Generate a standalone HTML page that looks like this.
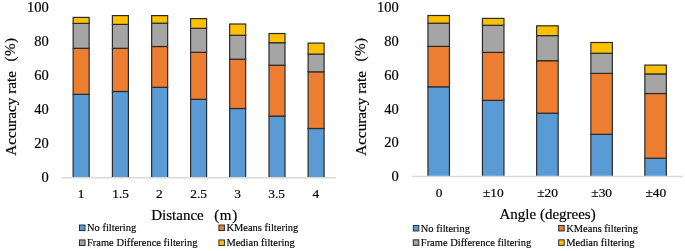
<!DOCTYPE html>
<html><head><meta charset="utf-8"><style>
html,body{margin:0;padding:0;background:#fff;}
body{width:685px;height:251px;overflow:hidden;}
svg{display:block;will-change:transform;filter:blur(0.35px);}
.t{font-family:"Liberation Serif", serif;font-size:14.5px;fill:#000;stroke:#000;stroke-width:0.18px;}
.ti{font-family:"Liberation Serif", serif;font-size:15px;fill:#000;stroke:#000;stroke-width:0.18px;}
.yl{font-family:"Liberation Serif", serif;font-size:15.2px;fill:#000;stroke:#000;stroke-width:0.18px;}
.xt{font-family:"Liberation Serif", serif;font-size:13.4px;fill:#000;stroke:#000;stroke-width:0.2px;}
.lg{font-family:"Liberation Serif", serif;font-size:10.5px;fill:#000;stroke:#000;stroke-width:0.15px;}
</style></head><body>
<svg width="685" height="251" viewBox="0 0 685 251">
<rect width="685" height="251" fill="#fff"/>
<text x="48.8" y="182.40" text-anchor="end" class="t">0</text>
<text x="48.8" y="148.26" text-anchor="end" class="t">20</text>
<text x="48.8" y="114.12" text-anchor="end" class="t">40</text>
<text x="48.8" y="79.98" text-anchor="end" class="t">60</text>
<text x="48.8" y="45.84" text-anchor="end" class="t">80</text>
<text x="48.8" y="11.70" text-anchor="end" class="t">100</text>
<clipPath id="c62"><rect x="0" y="0" width="685" height="177.30"/></clipPath><g clip-path="url(#c62)">
<rect x="73.15" y="94.30" width="16.00" height="86.40" fill="#5B9BD5" stroke="#2b2b2b" stroke-width="1.2"/>
<rect x="73.15" y="48.30" width="16.00" height="46.00" fill="#ED7D31" stroke="#2b2b2b" stroke-width="1.2"/>
<rect x="73.15" y="23.40" width="16.00" height="24.90" fill="#A5A5A5" stroke="#2b2b2b" stroke-width="1.2"/>
<rect x="73.15" y="17.40" width="16.00" height="6.00" fill="#FFC000" stroke="#2b2b2b" stroke-width="1.2"/>
<rect x="112.40" y="91.50" width="16.00" height="89.20" fill="#5B9BD5" stroke="#2b2b2b" stroke-width="1.2"/>
<rect x="112.40" y="48.30" width="16.00" height="43.20" fill="#ED7D31" stroke="#2b2b2b" stroke-width="1.2"/>
<rect x="112.40" y="24.40" width="16.00" height="23.90" fill="#A5A5A5" stroke="#2b2b2b" stroke-width="1.2"/>
<rect x="112.40" y="15.60" width="16.00" height="8.80" fill="#FFC000" stroke="#2b2b2b" stroke-width="1.2"/>
<rect x="151.65" y="87.30" width="16.00" height="93.40" fill="#5B9BD5" stroke="#2b2b2b" stroke-width="1.2"/>
<rect x="151.65" y="46.50" width="16.00" height="40.80" fill="#ED7D31" stroke="#2b2b2b" stroke-width="1.2"/>
<rect x="151.65" y="23.20" width="16.00" height="23.30" fill="#A5A5A5" stroke="#2b2b2b" stroke-width="1.2"/>
<rect x="151.65" y="15.60" width="16.00" height="7.60" fill="#FFC000" stroke="#2b2b2b" stroke-width="1.2"/>
<rect x="190.60" y="99.30" width="16.00" height="81.40" fill="#5B9BD5" stroke="#2b2b2b" stroke-width="1.2"/>
<rect x="190.60" y="52.30" width="16.00" height="47.00" fill="#ED7D31" stroke="#2b2b2b" stroke-width="1.2"/>
<rect x="190.60" y="28.30" width="16.00" height="24.00" fill="#A5A5A5" stroke="#2b2b2b" stroke-width="1.2"/>
<rect x="190.60" y="18.60" width="16.00" height="9.70" fill="#FFC000" stroke="#2b2b2b" stroke-width="1.2"/>
<rect x="229.65" y="108.50" width="16.00" height="72.20" fill="#5B9BD5" stroke="#2b2b2b" stroke-width="1.2"/>
<rect x="229.65" y="59.20" width="16.00" height="49.30" fill="#ED7D31" stroke="#2b2b2b" stroke-width="1.2"/>
<rect x="229.65" y="35.30" width="16.00" height="23.90" fill="#A5A5A5" stroke="#2b2b2b" stroke-width="1.2"/>
<rect x="229.65" y="24.00" width="16.00" height="11.30" fill="#FFC000" stroke="#2b2b2b" stroke-width="1.2"/>
<rect x="269.00" y="116.10" width="16.00" height="64.60" fill="#5B9BD5" stroke="#2b2b2b" stroke-width="1.2"/>
<rect x="269.00" y="65.20" width="16.00" height="50.90" fill="#ED7D31" stroke="#2b2b2b" stroke-width="1.2"/>
<rect x="269.00" y="42.70" width="16.00" height="22.50" fill="#A5A5A5" stroke="#2b2b2b" stroke-width="1.2"/>
<rect x="269.00" y="33.50" width="16.00" height="9.20" fill="#FFC000" stroke="#2b2b2b" stroke-width="1.2"/>
<rect x="308.10" y="128.50" width="16.00" height="52.20" fill="#5B9BD5" stroke="#2b2b2b" stroke-width="1.2"/>
<rect x="308.10" y="71.80" width="16.00" height="56.70" fill="#ED7D31" stroke="#2b2b2b" stroke-width="1.2"/>
<rect x="308.10" y="54.10" width="16.00" height="17.70" fill="#A5A5A5" stroke="#2b2b2b" stroke-width="1.2"/>
<rect x="308.10" y="43.10" width="16.00" height="11.00" fill="#FFC000" stroke="#2b2b2b" stroke-width="1.2"/>
</g>
<line x1="62" y1="177.7" x2="336" y2="177.7" stroke="#d9d9d9" stroke-width="1.5"/>
<text x="81.1" y="198.2" text-anchor="middle" class="xt">1</text>
<text x="120.6" y="198.2" text-anchor="middle" class="xt">1.5</text>
<text x="159.4" y="198.2" text-anchor="middle" class="xt">2</text>
<text x="198.6" y="198.2" text-anchor="middle" class="xt">2.5</text>
<text x="237.5" y="198.2" text-anchor="middle" class="xt">3</text>
<text x="276.7" y="198.2" text-anchor="middle" class="xt">3.5</text>
<text x="315.9" y="198.2" text-anchor="middle" class="xt">4</text>
<text x="194.6" y="219.8" text-anchor="middle" class="ti">Distance<tspan dx="10.4" letter-spacing="0.7">(m)</tspan></text>
<text transform="translate(16.2,155.8) rotate(-90)" class="yl">Accuracy rate<tspan dx="9.5" dy="-1.3" letter-spacing="0.4">(%)</tspan></text>
<rect x="79.50" y="225.05" width="5.5" height="5.5" fill="#5B9BD5" stroke="#2b2b2b" stroke-width="1"/>
<text transform="translate(87.00,231.10) scale(1,1.08)" class="lg">No filtering</text>
<rect x="218.90" y="225.05" width="5.5" height="5.5" fill="#ED7D31" stroke="#2b2b2b" stroke-width="1"/>
<text transform="translate(226.40,231.10) scale(1,1.08)" class="lg">KMeans filtering</text>
<rect x="79.50" y="239.95" width="5.5" height="5.5" fill="#A5A5A5" stroke="#2b2b2b" stroke-width="1"/>
<text transform="translate(87.00,246.00) scale(1,1.08)" class="lg">Frame Difference filtering</text>
<rect x="218.90" y="239.95" width="5.5" height="5.5" fill="#FFC000" stroke="#2b2b2b" stroke-width="1"/>
<text transform="translate(226.40,246.00) scale(1,1.08)" class="lg">Median filtering</text>
<text x="398.8" y="181.10" text-anchor="end" class="t">0</text>
<text x="398.8" y="147.32" text-anchor="end" class="t">20</text>
<text x="398.8" y="113.54" text-anchor="end" class="t">40</text>
<text x="398.8" y="79.76" text-anchor="end" class="t">60</text>
<text x="398.8" y="45.98" text-anchor="end" class="t">80</text>
<text x="398.8" y="12.20" text-anchor="end" class="t">100</text>
<clipPath id="c412"><rect x="0" y="0" width="685" height="176.00"/></clipPath><g clip-path="url(#c412)">
<rect x="427.95" y="86.80" width="21.50" height="92.60" fill="#5B9BD5" stroke="#2b2b2b" stroke-width="1.2"/>
<rect x="427.95" y="46.40" width="21.50" height="40.40" fill="#ED7D31" stroke="#2b2b2b" stroke-width="1.2"/>
<rect x="427.95" y="23.20" width="21.50" height="23.20" fill="#A5A5A5" stroke="#2b2b2b" stroke-width="1.2"/>
<rect x="427.95" y="15.50" width="21.50" height="7.70" fill="#FFC000" stroke="#2b2b2b" stroke-width="1.2"/>
<rect x="482.45" y="100.40" width="21.50" height="79.00" fill="#5B9BD5" stroke="#2b2b2b" stroke-width="1.2"/>
<rect x="482.45" y="52.40" width="21.50" height="48.00" fill="#ED7D31" stroke="#2b2b2b" stroke-width="1.2"/>
<rect x="482.45" y="25.30" width="21.50" height="27.10" fill="#A5A5A5" stroke="#2b2b2b" stroke-width="1.2"/>
<rect x="482.45" y="18.40" width="21.50" height="6.90" fill="#FFC000" stroke="#2b2b2b" stroke-width="1.2"/>
<rect x="536.65" y="113.20" width="21.50" height="66.20" fill="#5B9BD5" stroke="#2b2b2b" stroke-width="1.2"/>
<rect x="536.65" y="60.70" width="21.50" height="52.50" fill="#ED7D31" stroke="#2b2b2b" stroke-width="1.2"/>
<rect x="536.65" y="35.60" width="21.50" height="25.10" fill="#A5A5A5" stroke="#2b2b2b" stroke-width="1.2"/>
<rect x="536.65" y="25.80" width="21.50" height="9.80" fill="#FFC000" stroke="#2b2b2b" stroke-width="1.2"/>
<rect x="590.85" y="134.30" width="21.50" height="45.10" fill="#5B9BD5" stroke="#2b2b2b" stroke-width="1.2"/>
<rect x="590.85" y="73.40" width="21.50" height="60.90" fill="#ED7D31" stroke="#2b2b2b" stroke-width="1.2"/>
<rect x="590.85" y="53.30" width="21.50" height="20.10" fill="#A5A5A5" stroke="#2b2b2b" stroke-width="1.2"/>
<rect x="590.85" y="42.50" width="21.50" height="10.80" fill="#FFC000" stroke="#2b2b2b" stroke-width="1.2"/>
<rect x="644.85" y="158.20" width="21.50" height="21.20" fill="#5B9BD5" stroke="#2b2b2b" stroke-width="1.2"/>
<rect x="644.85" y="93.50" width="21.50" height="64.70" fill="#ED7D31" stroke="#2b2b2b" stroke-width="1.2"/>
<rect x="644.85" y="73.90" width="21.50" height="19.60" fill="#A5A5A5" stroke="#2b2b2b" stroke-width="1.2"/>
<rect x="644.85" y="65.10" width="21.50" height="8.80" fill="#FFC000" stroke="#2b2b2b" stroke-width="1.2"/>
</g>
<line x1="412" y1="176.4" x2="683" y2="176.4" stroke="#d9d9d9" stroke-width="1.5"/>
<text x="439" y="196.8" text-anchor="middle" class="xt">0</text>
<text x="493.3" y="196.8" text-anchor="middle" class="xt">±10</text>
<text x="547.5" y="196.8" text-anchor="middle" class="xt">±20</text>
<text x="601.7" y="196.8" text-anchor="middle" class="xt">±30</text>
<text x="655.9" y="196.8" text-anchor="middle" class="xt">±40</text>
<text x="547.6" y="218.6" text-anchor="middle" class="ti">Angle (degrees)</text>
<text transform="translate(366.3,155.8) rotate(-90)" class="yl">Accuracy rate<tspan dx="9.5" dy="-1.3" letter-spacing="0.4">(%)</tspan></text>
<rect x="413.30" y="225.45" width="5.5" height="5.5" fill="#5B9BD5" stroke="#2b2b2b" stroke-width="1"/>
<text transform="translate(420.80,231.50) scale(1,1.08)" class="lg">No filtering</text>
<rect x="558.70" y="225.45" width="5.5" height="5.5" fill="#ED7D31" stroke="#2b2b2b" stroke-width="1"/>
<text transform="translate(566.20,231.50) scale(1,1.08)" class="lg">KMeans filtering</text>
<rect x="413.30" y="239.85" width="5.5" height="5.5" fill="#A5A5A5" stroke="#2b2b2b" stroke-width="1"/>
<text transform="translate(420.80,245.90) scale(1,1.08)" class="lg">Frame Difference filtering</text>
<rect x="558.70" y="239.85" width="5.5" height="5.5" fill="#FFC000" stroke="#2b2b2b" stroke-width="1"/>
<text transform="translate(566.20,245.90) scale(1,1.08)" class="lg">Median filtering</text>
</svg>
</body></html>
